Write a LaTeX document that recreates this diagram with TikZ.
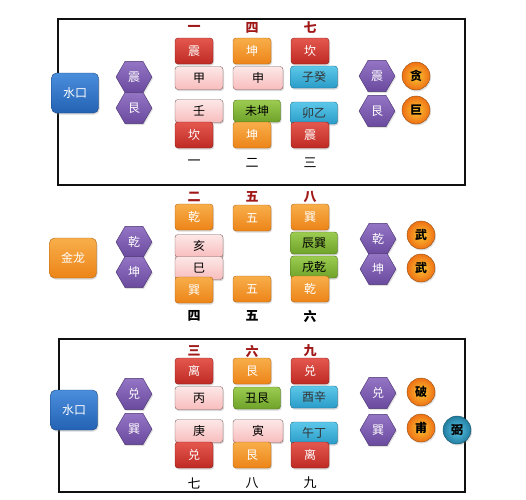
\documentclass[tikz,border=0pt]{standalone}
\usepackage{fontspec}
\setmainfont{Noto Sans CJK SC}
\usetikzlibrary{shapes.geometric,shadows,positioning}
\definecolor{frame-black}{HTML}{101010}
\definecolor{num-red}{HTML}{A01818}
\definecolor{red-top}{HTML}{E4584E}
\definecolor{red-bot}{HTML}{BE2A24}
\definecolor{orange-top}{HTML}{F8AE4A}
\definecolor{orange-bot}{HTML}{EC8418}
\definecolor{pink-top}{HTML}{FDE8E8}
\definecolor{pink-bot}{HTML}{F8BCBC}
\definecolor{green-top}{HTML}{9CCC50}
\definecolor{green-bot}{HTML}{6EA22A}
\definecolor{cyan-top}{HTML}{5CC8EA}
\definecolor{cyan-bot}{HTML}{2A9CC8}
\definecolor{water-top}{HTML}{4A8EDC}
\definecolor{water-bot}{HTML}{2462B4}
\definecolor{hex-top}{HTML}{9474C4}
\definecolor{hex-bot}{HTML}{6A4A9E}
\tikzset{
    gua-box/.style = {rectangle, rounded corners=3pt, inner sep=0pt, minimum width=38pt, minimum height=26pt, font=\fontsize{12}{12}\selectfont, text=white, drop shadow={opacity=0.3, shadow xshift=1pt, shadow yshift=-1.5pt}},
    red-box/.style = {gua-box, top color=red-top, bottom color=red-bot, draw=red-bot!70!black, thin},
    orange-box/.style = {gua-box, top color=orange-top, bottom color=orange-bot, draw=orange-bot!75!black, thin},
    pink-box/.style = {gua-box, minimum width=48pt, minimum height=23pt, text=black, top color=pink-top, bottom color=pink-bot, draw=pink-bot!50!black, thin},
    green-box/.style = {gua-box, minimum width=47pt, minimum height=22pt, text=black, top color=green-top, bottom color=green-bot, draw=green-bot!70!black, thin},
    cyan-box/.style = {gua-box, minimum width=47pt, minimum height=22pt, text=black!80, top color=cyan-top, bottom color=cyan-bot, draw=cyan-bot!70!black, thin},
    water-box/.style = {gua-box, rounded corners=5pt, minimum width=47pt, minimum height=40pt, top color=water-top, bottom color=water-bot, draw=water-bot!70!black, thin},
    dragon-box/.style = {gua-box, rounded corners=5pt, minimum width=47pt, minimum height=40pt, top color=orange-top, bottom color=orange-bot, draw=orange-bot!75!black, thin},
    hex-box/.style = {regular polygon, regular polygon sides=6, minimum size=36pt, inner sep=0pt, font=\fontsize{12}{12}\selectfont, text=white, top color=hex-top, bottom color=hex-bot, draw=hex-bot!70!black, thin, drop shadow={opacity=0.25, shadow xshift=1pt, shadow yshift=-1.5pt}},
    star-ball/.style = {circle, minimum size=28pt, inner sep=0pt, font=\fontsize{12}{12}\selectfont\bfseries, text=black, inner color=orange-top!70!yellow, outer color=orange-bot!85!red, draw=orange-bot!60!black, thin, drop shadow={opacity=0.25, shadow xshift=1pt, shadow yshift=-1.5pt}},
    star-ball-blue/.style = {star-ball, inner color=cyan-top, outer color=cyan-bot!80!black, draw=cyan-bot!50!black},
    top-num/.style = {font=\fontsize{13}{13}\selectfont\bfseries, text=num-red, inner sep=0pt},
    bottom-num/.style = {font=\fontsize{13}{13}\selectfont, text=black, inner sep=0pt},
    frame/.style = {draw=frame-black, line width=2pt},
}
\begin{document}
\begin{tikzpicture}[x=1pt,y=-1pt]
\useasboundingbox (0,0) rectangle (526,499);
\draw[frame] (58,19) rectangle (465,185);
\draw[frame] (59,339) rectangle (465,492);

% top group
\node[water-box] (water-top) at (75,93) {水口};
\node[hex-box] (hex-top-zhen) at (134,77) {震};
\node[hex-box] (hex-top-gen) at (134,108) {艮};
\node[top-num] (num-top-1) at (194,28) {一};
\node[pink-box] (t1-jia) at (199,78) {甲};
\node[pink-box] (t1-ren) at (199,111) {壬};
\node[red-box] (t1-zhen) at (194,51) {震};
\node[red-box] (t1-kan) at (194,135) {坎};
\node[bottom-num] (num-low-1) at (194,163) {一};
\node[top-num] (num-top-4) at (252,28) {四};
\node[pink-box, minimum width=50pt] (t2-shen) at (258,78) {申};
\node[green-box] (t2-weikun) at (257,111) {未坤};
\node[orange-box] (t2-kun-a) at (252,51) {坤};
\node[orange-box] (t2-kun-b) at (252,135) {坤};
\node[bottom-num] (num-low-2) at (252,163) {二};
\node[top-num] (num-top-7) at (310,28) {七};
\node[cyan-box] (t3-zigui) at (314,77) {子癸};
\node[cyan-box] (t3-maoyi) at (314,113) {卯乙};
\node[red-box] (t3-kan) at (310,51) {坎};
\node[red-box] (t3-zhen) at (310,135) {震};
\node[bottom-num] (num-low-3) at (310,163) {三};
\node[hex-box] (hex-top-zhen-r) at (377,76) {震};
\node[hex-box] (hex-top-gen-r) at (377,111) {艮};
\node[star-ball] (star-tan) at (416,76) {贪};
\node[star-ball] (star-ju) at (416,110) {巨};

% middle group
\node[dragon-box] (dragon-mid) at (73,258) {金龙};
\node[hex-box] (hex-mid-qian) at (134,242) {乾};
\node[hex-box] (hex-mid-kun) at (134,272) {坤};
\node[top-num] (num-top-2) at (194,197) {二};
\node[pink-box] (m1-hai) at (199,246) {亥};
\node[pink-box] (m1-si) at (199,268) {巳};
\node[orange-box] (m1-qian) at (194,217) {乾};
\node[orange-box] (m1-xun) at (194,290) {巽};
\node[bottom-num, font=\fontsize{13}{13}\selectfont\bfseries] (num-low-4) at (194,316) {四};
\node[top-num] (num-top-5) at (252,197) {五};
\node[orange-box] (m2-wu-a) at (252,218) {五};
\node[orange-box] (m2-wu-b) at (252,289) {五};
\node[bottom-num, font=\fontsize{13}{13}\selectfont\bfseries] (num-low-5) at (252,316) {五};
\node[top-num] (num-top-8) at (310,197) {八};
\node[green-box] (m3-chenxun) at (314,243) {辰巽};
\node[green-box] (m3-xuqian) at (314,267) {戌乾};
\node[orange-box] (m3-xun) at (310,217) {巽};
\node[orange-box] (m3-qian) at (310,289) {乾};
\node[bottom-num, font=\fontsize{13}{13}\selectfont\bfseries] (num-low-6) at (310,316) {六};
\node[hex-box] (hex-mid-qian-r) at (378,239) {乾};
\node[hex-box] (hex-mid-kun-r) at (378,269) {坤};
\node[star-ball] (star-wu-a) at (421,235) {武};
\node[star-ball] (star-wu-b) at (421,268) {武};

% bottom group
\node[water-box] (water-low) at (74,410) {水口};
\node[hex-box] (hex-low-dui) at (134,394) {兑};
\node[hex-box] (hex-low-xun) at (134,429) {巽};
\node[top-num] (num-top-3) at (194,351) {三};
\node[pink-box] (b1-bing) at (199,398) {丙};
\node[pink-box] (b1-geng) at (199,431) {庚};
\node[red-box] (b1-li) at (194,371) {离};
\node[red-box] (b1-dui) at (194,455) {兑};
\node[bottom-num] (num-low-7) at (194,483) {七};
\node[top-num] (num-top-6) at (252,351) {六};
\node[green-box] (b2-chougen) at (257,398) {丑艮};
\node[pink-box, minimum width=50pt] (b2-yin) at (258,431) {寅};
\node[orange-box] (b2-gen-a) at (252,371) {艮};
\node[orange-box] (b2-gen-b) at (252,455) {艮};
\node[bottom-num] (num-low-8) at (252,483) {八};
\node[top-num] (num-top-9) at (310,351) {九};
\node[cyan-box] (b3-youxin) at (314,397) {酉辛};
\node[cyan-box] (b3-wuding) at (314,433) {午丁};
\node[red-box] (b3-dui) at (310,371) {兑};
\node[red-box] (b3-li) at (310,455) {离};
\node[bottom-num] (num-low-9) at (310,483) {九};
\node[hex-box] (hex-low-dui-r) at (378,393) {兑};
\node[hex-box] (hex-low-xun-r) at (378,430) {巽};
\node[star-ball] (star-po) at (421,392) {破};
\node[star-ball] (star-fu) at (421,428) {甫};
\node[star-ball-blue] (star-bi) at (457,430) {弼};
\end{tikzpicture}
\end{document}
